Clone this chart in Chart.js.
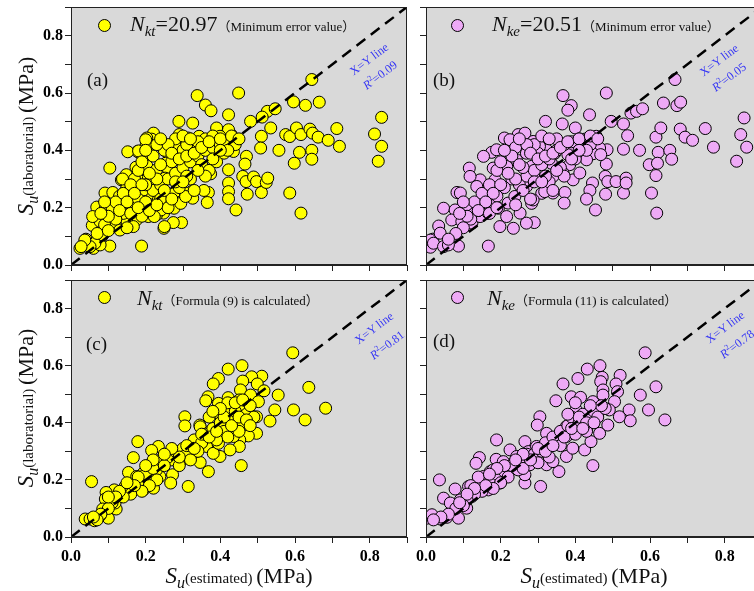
<!DOCTYPE html>
<html>
<head>
<meta charset="utf-8">
<script src="https://cdn.jsdelivr.net/npm/chart.js@4.4.1/dist/chart.umd.min.js"></script>
<style>
  body { margin: 0; width: 754px; height: 591px; overflow: hidden; background: #fff; position: relative; font-family: "Liberation Serif", "Noto Sans CJK SC", serif; color: #111; }
  .wrap { position: absolute; }
  .abs { position: absolute; white-space: nowrap; }
  .dot { position: absolute; width: 13px; height: 13px; margin: -6.5px 0 0 -6.5px; border-radius: 50%; border: 1px solid #000; box-sizing: border-box; }
  .big { font-size: 22px; line-height: 22px; }
  .big i.sub { font-size: 15px; position: relative; top: 5px; }
  .small { font-size: 13px; }
  .tag { font-size: 19px; line-height: 20px; }
  .note { color: #3535f5; font-size: 12px; line-height: 12px; transform: translate(-50%, -50%) rotate(-37deg); }
  .note sup { font-size: 8px; vertical-align: 5px; line-height: 0; }
  .ytitle { transform: translate(-50%, -50%) rotate(-90deg); font-size: 15px; line-height: 22px; }
  .xtitle { transform: translate(-50%, -50%); font-size: 15px; line-height: 22px; }
  .ytitle .s, .xtitle .s { font-size: 23px; font-style: italic; }
  .ytitle .u, .xtitle .u { font-size: 16px; font-style: italic; position: relative; top: 5px; }
  .ytitle .m, .xtitle .m { font-size: 22px; }
</style>
</head>
<body>

<div class="wrap" style="left:0;top:0"><canvas id="ca" width="420" height="275"></canvas></div>
<div class="wrap" style="left:355px;top:0"><canvas id="cb" width="420" height="275"></canvas></div>
<div class="wrap" style="left:0;top:273px"><canvas id="cc" width="420" height="318"></canvas></div>
<div class="wrap" style="left:355px;top:273px"><canvas id="cd" width="420" height="318"></canvas></div>

<!-- axis titles -->
<div class="abs ytitle" style="left:27px;top:136px"><span class="s">S</span><span class="u">u</span>(laboratorial) <span class="m">(MPa)</span></div>
<div class="abs ytitle" style="left:27px;top:408px"><span class="s">S</span><span class="u">u</span>(laboratorial) <span class="m">(MPa)</span></div>
<div class="abs xtitle" style="left:239px;top:577px"><span class="s">S</span><span class="u">u</span>(estimated) <span class="m">(MPa)</span></div>
<div class="abs xtitle" style="left:594px;top:577px"><span class="s">S</span><span class="u">u</span>(estimated) <span class="m">(MPa)</span></div>

<!-- legends -->
<div class="dot" style="left:104px;top:25px;background:#ffff00"></div>
<div class="abs big" style="left:130px;top:13px"><i>N</i><i class="sub">kt</i>=20.97<span class="small">（Minimum error value）</span></div>
<div class="dot" style="left:457px;top:25px;background:#eeaaf6"></div>
<div class="abs big" style="left:492px;top:13px"><i>N</i><i class="sub">ke</i>=20.51<span class="small">（Minimum error value）</span></div>
<div class="dot" style="left:104px;top:297px;background:#ffff00"></div>
<div class="abs big" style="left:137px;top:287px"><i>N</i><i class="sub">kt</i><span class="small">（Formula (9) is calculated）</span></div>
<div class="dot" style="left:457px;top:297px;background:#eeaaf6"></div>
<div class="abs big" style="left:487px;top:287px"><i>N</i><i class="sub">ke</i><span class="small">（Formula (11) is calculated）</span></div>

<!-- panel tags -->
<div class="abs tag" style="left:87px;top:70px">(a)</div>
<div class="abs tag" style="left:433px;top:70px">(b)</div>
<div class="abs tag" style="left:86px;top:334px">(c)</div>
<div class="abs tag" style="left:433px;top:331px">(d)</div>

<!-- x=y notes -->
<div class="abs note" style="left:369px;top:59px">X=Y line</div>
<div class="abs note" style="left:380px;top:75px"><i>R</i><sup>2</sup>=0.09</div>
<div class="abs note" style="left:719px;top:60px">X=Y line</div>
<div class="abs note" style="left:729px;top:77px"><i>R</i><sup>2</sup>=0.05</div>
<div class="abs note" style="left:374px;top:328px">X=Y line</div>
<div class="abs note" style="left:387px;top:345px"><i>R</i><sup>2</sup>=0.81</div>
<div class="abs note" style="left:725px;top:327px">X=Y line</div>
<div class="abs note" style="left:737px;top:344px"><i>R</i><sup>2</sup>=0.78</div>

<script>
// [estimated Su, laboratorial Su] pairs
const nktMin = [
  [0.645,0.647],[0.338,0.591],[0.449,0.600],[0.360,0.558],[0.375,0.538],[0.326,0.495],[0.289,0.501],[0.422,0.524],
  [0.526,0.536],[0.547,0.545],[0.512,0.516],[0.481,0.501],[0.596,0.569],[0.628,0.557],[0.665,0.568],[0.535,0.478],
  [0.510,0.449],[0.508,0.408],[0.557,0.400],[0.575,0.455],[0.586,0.448],[0.604,0.478],[0.616,0.455],[0.640,0.474],
  [0.647,0.460],[0.662,0.446],[0.689,0.435],[0.712,0.476],[0.719,0.414],[0.813,0.457],[0.832,0.515],[0.832,0.414],
  [0.823,0.362],[0.612,0.393],[0.598,0.355],[0.645,0.400],[0.645,0.369],[0.586,0.251],[0.616,0.181],
  [0.470,0.379],[0.466,0.352],[0.460,0.309],[0.469,0.291],[0.472,0.247],[0.489,0.307],[0.497,0.291],[0.510,0.253],
  [0.523,0.288],[0.527,0.303],[0.444,0.437],[0.429,0.455],[0.422,0.472],[0.435,0.396],[0.422,0.332],[0.422,0.286],
  [0.422,0.256],[0.422,0.231],[0.442,0.192],[0.368,0.253],[0.365,0.218],[0.374,0.318],[0.356,0.260],[0.390,0.478],
  [0.399,0.449],[0.372,0.420],[0.344,0.431],[0.314,0.443],[0.310,0.414],[0.292,0.449],[0.279,0.414],[0.261,0.388],
  [0.254,0.355],[0.259,0.338],[0.252,0.303],[0.277,0.251],[0.290,0.218],[0.296,0.148],[0.274,0.148],[0.249,0.128],
  [0.276,0.198],[0.323,0.256],[0.326,0.233],[0.306,0.251],[0.221,0.460],[0.216,0.439],[0.203,0.443],[0.201,0.416],
  [0.208,0.390],[0.185,0.390],[0.178,0.396],[0.152,0.395],[0.104,0.338],[0.174,0.341],[0.203,0.346],[0.229,0.332],
  [0.221,0.297],[0.185,0.297],[0.176,0.309],[0.148,0.315],[0.135,0.297],[0.149,0.268],[0.163,0.256],[0.171,0.233],
  [0.185,0.198],[0.203,0.204],[0.221,0.204],[0.216,0.251],[0.194,0.262],[0.234,0.227],[0.248,0.181],[0.229,0.175],
  [0.207,0.169],[0.175,0.157],[0.149,0.157],[0.122,0.204],[0.109,0.181],[0.091,0.251],[0.112,0.253],[0.069,0.202],
  [0.092,0.198],[0.063,0.163],[0.057,0.138],[0.078,0.152],[0.096,0.157],[0.118,0.146],[0.131,0.122],[0.167,0.134],
  [0.082,0.099],[0.104,0.066],[0.189,0.066],[0.024,0.058],[0.038,0.076],[0.040,0.090],[0.060,0.058],[0.078,0.070],
  [0.064,0.076],[0.051,0.064],[0.200,0.437],[0.290,0.455],[0.343,0.449],[0.181,0.398],[0.138,0.300],[0.125,0.204],
  [0.058,0.169],[0.085,0.105],[0.037,0.087],[0.027,0.064],[0.250,0.134],[0.241,0.192],[0.223,0.169],[0.294,0.215],
  [0.307,0.239],[0.14,0.18],[0.16,0.21],[0.18,0.23],[0.20,0.22],[0.22,0.26],[0.24,0.28],[0.26,0.30],[0.28,0.32],
  [0.30,0.34],[0.32,0.36],[0.34,0.38],[0.36,0.40],[0.38,0.41],[0.40,0.42],[0.42,0.43],[0.44,0.42],[0.33,0.41],
  [0.35,0.35],[0.27,0.36],[0.25,0.40],[0.23,0.42],[0.30,0.40],[0.32,0.30],[0.29,0.27],[0.24,0.23],[0.26,0.20],
  [0.20,0.28],[0.17,0.30],[0.13,0.24],[0.11,0.20],[0.12,0.16],[0.09,0.14],[0.07,0.11],[0.10,0.12],[0.15,0.13],
  [0.19,0.17],[0.21,0.19],[0.37,0.33],[0.39,0.36],[0.41,0.39],[0.36,0.44],[0.38,0.45],[0.28,0.44],[0.31,0.42],[0.34,0.43],
  [0.12,0.22],[0.14,0.25],[0.16,0.28],[0.18,0.33],[0.19,0.36],[0.22,0.38],[0.24,0.35],[0.26,0.42],[0.27,0.39],
  [0.29,0.37],[0.31,0.38],[0.33,0.39],[0.35,0.41],[0.37,0.43],[0.40,0.44],[0.42,0.40],[0.38,0.37],[0.36,0.31],
  [0.34,0.33],[0.31,0.31],[0.28,0.29],[0.25,0.26],[0.23,0.30],[0.21,0.32],[0.19,0.28],[0.17,0.25],[0.15,0.22],
  [0.13,0.19],[0.10,0.17],[0.08,0.18],[0.09,0.22],[0.16,0.18],[0.18,0.20],[0.23,0.21],[0.27,0.23],[0.30,0.29],
  [0.33,0.26],[0.40,0.40],[0.43,0.45],[0.45,0.44],[0.20,0.40],[0.24,0.44],[0.30,0.45],[0.32,0.44]
];
const nkeMin = [
  [0.667,0.647],[0.483,0.600],[0.367,0.591],[0.389,0.556],[0.380,0.540],[0.320,0.501],[0.365,0.492],[0.438,0.524],
  [0.496,0.501],[0.400,0.478],[0.247,0.455],[0.210,0.443],[0.225,0.437],[0.176,0.393],[0.189,0.402],[0.116,0.338],
  [0.145,0.297],[0.118,0.309],[0.083,0.253],[0.092,0.251],[0.047,0.198],[0.034,0.136],[0.018,0.090],[0.012,0.062],
  [0.167,0.066],[0.087,0.066],[0.529,0.492],[0.540,0.451],[0.529,0.404],[0.549,0.530],[0.564,0.536],[0.580,0.545],
  [0.572,0.400],[0.598,0.350],[0.604,0.251],[0.618,0.181],[0.616,0.312],[0.622,0.393],[0.620,0.355],[0.616,0.446],
  [0.629,0.478],[0.636,0.565],[0.653,0.400],[0.658,0.369],[0.672,0.556],[0.682,0.568],[0.681,0.474],[0.694,0.446],
  [0.714,0.435],[0.748,0.476],[0.770,0.411],[0.832,0.362],[0.843,0.455],[0.852,0.513],[0.859,0.411],[0.485,0.402],
  [0.483,0.352],[0.480,0.309],[0.487,0.291],[0.481,0.247],[0.446,0.286],[0.439,0.260],[0.430,0.230],[0.454,0.192],
  [0.509,0.291],[0.529,0.251],[0.536,0.303],[0.536,0.286],[0.372,0.253],[0.370,0.216],[0.340,0.251],[0.234,0.128],
  [0.290,0.148],[0.269,0.146],[0.012,0.087],[0.283,0.215],[0.310,0.250],[0.213,0.344],[0.158,0.245],[0.078,0.163],
  [0.105,0.205],[0.425,0.439],[0.456,0.449],[0.465,0.408],[0.447,0.388],[0.468,0.385],[0.412,0.396],[0.385,0.414],
  [0.380,0.385],[0.385,0.350],[0.367,0.321],[0.336,0.355],[0.345,0.390],[0.318,0.437],[0.323,0.402],[0.304,0.414],
  [0.287,0.431],[0.269,0.390],[0.242,0.367],[0.225,0.390],[0.216,0.344],[0.180,0.338],[0.185,0.297],[0.158,0.256],
  [0.154,0.227],[0.123,0.192],[0.109,0.210],[0.078,0.192],[0.069,0.157],[0.096,0.152],[0.123,0.146],[0.145,0.169],
  [0.167,0.181],[0.194,0.198],[0.220,0.216],[0.238,0.239],[0.269,0.274],[0.296,0.297],[0.318,0.256],[0.287,0.227],
  [0.252,0.181],[0.216,0.169],[0.198,0.134],[0.038,0.111],[0.020,0.076],[0.047,0.064],[0.060,0.070],[0.340,0.309],
  [0.394,0.297],[0.412,0.321],[0.430,0.367],[0.265,0.460],[0.154,0.379],[0.136,0.274],[0.283,0.344],
  [0.25,0.28],[0.27,0.31],[0.29,0.33],[0.31,0.35],[0.33,0.37],[0.35,0.40],[0.37,0.42],[0.39,0.43],[0.41,0.44],
  [0.30,0.39],[0.26,0.34],[0.23,0.30],[0.21,0.27],[0.19,0.24],[0.17,0.21],[0.14,0.19],[0.12,0.16],[0.10,0.13],
  [0.08,0.11],[0.06,0.09],[0.33,0.29],[0.36,0.34],[0.40,0.37],[0.44,0.42],[0.35,0.44],[0.29,0.42],[0.24,0.41],
  [0.13,0.22],[0.15,0.25],[0.17,0.28],[0.19,0.33],[0.20,0.36],[0.23,0.38],[0.25,0.35],[0.27,0.42],[0.28,0.39],
  [0.30,0.37],[0.32,0.38],[0.34,0.39],[0.36,0.41],[0.38,0.43],[0.41,0.44],[0.43,0.40],[0.39,0.37],[0.37,0.31],
  [0.35,0.33],[0.32,0.31],[0.29,0.29],[0.26,0.26],[0.24,0.30],[0.22,0.32],[0.20,0.28],[0.18,0.25],[0.16,0.22],
  [0.14,0.19],[0.11,0.17],[0.09,0.18],[0.10,0.22],[0.17,0.18],[0.19,0.20],[0.24,0.21],[0.28,0.23],[0.31,0.29],
  [0.34,0.26],[0.41,0.40],[0.44,0.45],[0.46,0.44],[0.21,0.40],[0.25,0.44],[0.31,0.45],[0.33,0.44]
];
const nktFormula = [
  [0.594,0.645],[0.458,0.600],[0.421,0.588],[0.395,0.555],[0.381,0.536],[0.511,0.563],[0.484,0.561],[0.499,0.536],
  [0.460,0.546],[0.454,0.515],[0.517,0.512],[0.555,0.497],[0.481,0.497],[0.367,0.491],[0.361,0.477],[0.421,0.488],
  [0.395,0.468],[0.451,0.480],[0.502,0.474],[0.637,0.524],[0.596,0.445],[0.546,0.445],[0.682,0.451],[0.627,0.410],
  [0.533,0.406],[0.497,0.421],[0.488,0.418],[0.497,0.363],[0.475,0.354],[0.452,0.340],[0.451,0.317],[0.426,0.305],
  [0.456,0.250],[0.399,0.282],[0.368,0.229],[0.346,0.261],[0.314,0.177],[0.305,0.421],[0.305,0.389],[0.345,0.392],
  [0.234,0.317],[0.216,0.303],[0.179,0.334],[0.167,0.278],[0.154,0.226],[0.175,0.194],[0.203,0.249],[0.210,0.200],
  [0.270,0.293],[0.272,0.218],[0.267,0.189],[0.292,0.261],[0.116,0.165],[0.094,0.156],[0.092,0.133],[0.121,0.098],
  [0.085,0.098],[0.055,0.194],[0.038,0.063],[0.051,0.063],[0.100,0.066],[0.078,0.075],[0.063,0.057],[0.145,0.177],
  [0.136,0.142],[0.118,0.119],[0.167,0.179],[0.194,0.165],[0.221,0.171],[0.238,0.212],[0.346,0.386],[0.377,0.340],
  [0.372,0.369],[0.395,0.433],[0.417,0.445],[0.408,0.392],[0.433,0.398],[0.337,0.328],[0.323,0.299],[0.296,0.282],
  [0.270,0.270],[0.247,0.258],[0.229,0.235],[0.194,0.224],[0.176,0.212],[0.363,0.317],[0.381,0.293],[0.435,0.352],
  [0.395,0.328],[0.475,0.445],[0.462,0.462],
  [0.18,0.19],[0.20,0.22],[0.22,0.24],[0.24,0.27],[0.26,0.28],[0.28,0.30],[0.30,0.31],[0.31,0.29],[0.33,0.34],
  [0.35,0.33],[0.36,0.36],[0.38,0.38],[0.40,0.40],[0.41,0.37],[0.43,0.41],[0.44,0.44],[0.46,0.40],[0.47,0.43],
  [0.48,0.46],[0.49,0.42],[0.42,0.35],[0.39,0.34],[0.45,0.37],[0.37,0.42],[0.34,0.30],[0.32,0.27],[0.29,0.25],
  [0.25,0.25],[0.23,0.20],[0.21,0.18],[0.19,0.16],[0.16,0.15],[0.14,0.14],[0.13,0.16],[0.11,0.12],[0.10,0.10],
  [0.08,0.08],[0.07,0.06],[0.06,0.07],
  [0.29,0.28],[0.31,0.32],[0.33,0.31],[0.35,0.36],[0.37,0.35],[0.39,0.37],[0.41,0.42],[0.43,0.39],[0.45,0.42],
  [0.47,0.41],[0.48,0.39],[0.42,0.47],[0.40,0.45],[0.44,0.47],[0.46,0.48],[0.38,0.44],[0.27,0.31],[0.25,0.29],
  [0.22,0.27],[0.20,0.25],[0.18,0.21],[0.17,0.18],[0.15,0.19],[0.12,0.14],[0.10,0.14]
];
const nkeFormula = [
  [0.587,0.645],[0.466,0.600],[0.432,0.588],[0.407,0.555],[0.367,0.536],[0.520,0.566],[0.472,0.559],[0.509,0.536],
  [0.468,0.544],[0.474,0.515],[0.616,0.526],[0.574,0.497],[0.513,0.509],[0.348,0.477],[0.389,0.491],[0.414,0.489],
  [0.447,0.474],[0.474,0.497],[0.505,0.474],[0.596,0.445],[0.544,0.445],[0.640,0.410],[0.547,0.407],[0.518,0.421],
  [0.305,0.421],[0.298,0.392],[0.323,0.363],[0.265,0.334],[0.189,0.340],[0.225,0.305],[0.143,0.278],[0.134,0.258],
  [0.145,0.194],[0.036,0.200],[0.047,0.136],[0.078,0.168],[0.114,0.177],[0.087,0.066],[0.109,0.101],[0.003,0.066],
  [0.016,0.078],[0.038,0.063],[0.056,0.069],[0.447,0.250],[0.398,0.404],[0.356,0.229],[0.307,0.177],[0.265,0.189],
  [0.265,0.218],[0.278,0.253],[0.274,0.299],[0.188,0.272],[0.172,0.229],[0.198,0.189],[0.216,0.235],[0.234,0.258],
  [0.247,0.235],[0.323,0.253],[0.340,0.264],[0.376,0.282],[0.393,0.311],[0.425,0.305],[0.442,0.334],[0.465,0.363],
  [0.487,0.392],[0.430,0.375],[0.376,0.387],[0.349,0.328],[0.402,0.445],[0.376,0.352],[0.323,0.317],[0.296,0.317],
  [0.167,0.165],[0.123,0.142],[0.092,0.130],[0.065,0.119],[0.154,0.212],[0.180,0.235],[0.207,0.264],[0.243,0.282],
  [0.465,0.445],[0.491,0.445],
  [0.17,0.20],[0.19,0.22],[0.21,0.23],[0.23,0.25],[0.25,0.27],[0.27,0.29],[0.29,0.29],[0.31,0.30],[0.32,0.33],
  [0.34,0.35],[0.36,0.37],[0.38,0.39],[0.39,0.42],[0.41,0.40],[0.42,0.43],[0.44,0.41],[0.45,0.44],[0.46,0.42],
  [0.48,0.45],[0.43,0.37],[0.40,0.36],[0.36,0.32],[0.33,0.28],[0.30,0.26],[0.26,0.24],[0.22,0.21],[0.20,0.19],
  [0.18,0.17],[0.15,0.16],[0.13,0.15],[0.11,0.13],[0.10,0.11],[0.08,0.10],[0.06,0.08],[0.04,0.07],[0.02,0.06],
  [0.14,0.21],[0.12,0.18],
  [0.28,0.27],[0.30,0.31],[0.32,0.30],[0.34,0.32],[0.37,0.35],[0.39,0.38],[0.41,0.42],[0.43,0.40],[0.45,0.40],
  [0.47,0.46],[0.38,0.43],[0.40,0.47],[0.44,0.46],[0.42,0.38],[0.26,0.29],[0.24,0.27],[0.21,0.25],[0.19,0.24],
  [0.17,0.22],[0.16,0.18],[0.13,0.17],[0.11,0.15],[0.09,0.12]
];
const tickLabels = ['0.0', '0.2', '0.4', '0.6', '0.8'];
const xyLine = [[0, 0], [0.9, 0.9]];

const yellow = '#ffff00';
const pink = '#eeaaf6';
const font = { family: 'Liberation Serif', size: 16, weight: 'bold' };

function tickText(v) {
  const i = Math.round(v * 10);
  return (i % 2 === 0 && i <= 8) ? tickLabels[i / 2] : '';
}

const frame = {
  id: 'frame',
  beforeDraw(c) {
    const a = c.chartArea, g = c.ctx;
    g.save();
    g.fillStyle = '#d9d9d9';
    g.fillRect(a.left, a.top, a.right - a.left, a.bottom - a.top);
    g.restore();
  },
  afterDraw(c) {
    const a = c.chartArea, g = c.ctx;
    g.save();
    g.strokeStyle = '#222';
    g.lineWidth = 1;
    g.strokeRect(a.left + 0.5, a.top + 0.5, a.right - a.left - 1, a.bottom - a.top - 1);
    g.restore();
  }
};

function makeChart(id, pts, color, showX, showY) {
  new Chart(document.getElementById(id), {
    type: 'scatter',
    data: {
      datasets: [
        {
          type: 'line',
          data: xyLine.map(p => ({ x: p[0], y: p[1] })),
          borderColor: '#000',
          borderWidth: 2.5,
          borderDash: [11, 7],
          pointRadius: 0,
          order: 0
        },
        {
          data: pts.map(p => ({ x: p[0], y: p[1] })),
          backgroundColor: color,
          borderColor: '#000',
          borderWidth: 1,
          pointRadius: 6,
          clip: 0,
          order: 1
        }
      ]
    },
    options: {
      responsive: false,
      animation: false,
      layout: { padding: { top: 7, right: 13, left: 0, bottom: 0 } },
      plugins: { legend: { display: false }, tooltip: { enabled: false } },
      scales: {
        x: {
          type: 'linear', min: 0, max: 0.9,
          afterFit(s) { s.height = showX ? 54 : 10; s.paddingLeft = 0; s.paddingRight = 0; },
          ticks: { stepSize: 0.1, autoSkip: false, maxRotation: 0, padding: 4, color: '#000', font: font,
                   callback: v => showX ? tickText(v) : '' },
          grid: { drawOnChartArea: false, tickLength: 6, color: '#222' },
          border: { display: true, color: '#222', width: 1 }
        },
        y: {
          type: 'linear', min: 0, max: 0.9,
          afterFit(s) { s.width = 71; s.paddingTop = 0; s.paddingBottom = 0; },
          ticks: { stepSize: 0.1, autoSkip: false, padding: 2, color: '#000', font: font,
                   callback: v => showY ? tickText(v) : '' },
          grid: { drawOnChartArea: false, tickLength: 6, color: '#222' },
          border: { display: true, color: '#222', width: 1 }
        }
      }
    },
    plugins: [frame]
  });
}

makeChart('ca', nktMin, yellow, false, true);
makeChart('cb', nkeMin, pink, false, false);
makeChart('cc', nktFormula, yellow, true, true);
makeChart('cd', nkeFormula, pink, true, false);
</script>
</body>
</html>
